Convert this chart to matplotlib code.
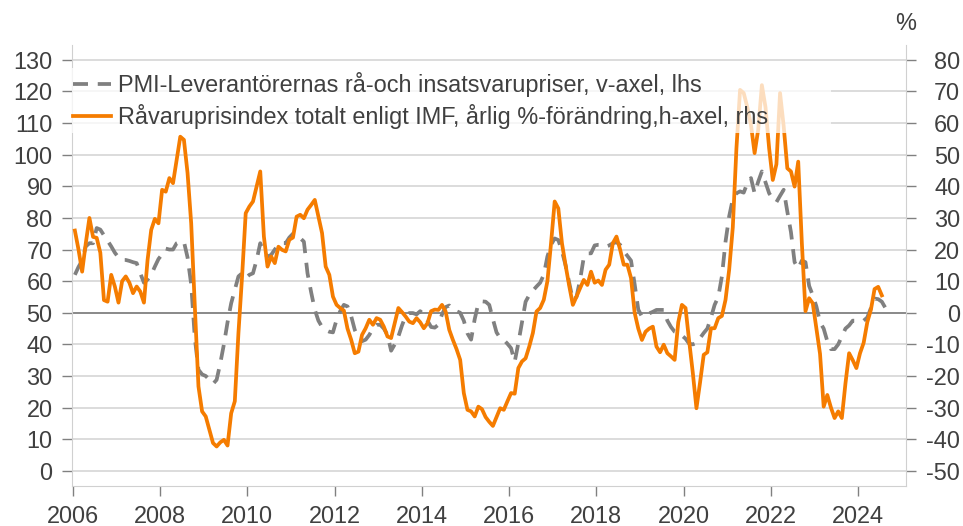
import numpy as np
import matplotlib
matplotlib.use("Agg")
import matplotlib.pyplot as plt
from matplotlib.patches import Rectangle
from matplotlib.lines import Line2D

plt.rcParams['font.family'] = ['Liberation Sans', 'DejaVu Sans']
plt.rcParams['axes.unicode_minus'] = False

# PMI - leverantörernas rå- och insatsvarupriser (vänster axel), månadsdata från jan 2006
pmi = [62, 64.5, 66.5, 71, 72, 72, 76.8, 76.3, 74.5, 72.8, 71, 69,
       67.5, 66.7, 66.7, 66.4, 66, 65.7, 62.5, 59.5, 60.5, 62, 64.6, 67,
       68.5, 70.3, 70, 70, 72, 72.5, 72.5, 67.5, 59, 42, 32, 30.5,
       30, 28.8, 27.5, 28.8, 34, 40, 47, 53, 57.3, 61.5, 62.5, 61,
       62, 62.5, 66.7, 72, 69, 67.8, 68.3, 70, 71.5, 72, 72, 73.8,
       75, 75, 73.6, 72.5, 62.5, 56.5, 51, 47.5, 45.5, 44.5, 44, 43.8,
       47.8, 50.5, 52.5, 52, 49, 44.6, 42, 41, 41.5, 43, 45, 46.2,
       46.2, 45, 43, 38, 40, 42.5, 46, 49, 49.9, 49.9, 49.5, 50.5,
       49.5, 47.5, 45.5, 45.3, 46.2, 49.5, 51.8, 52.3, 51, 50.5, 50, 47.5,
       43.5, 41.5, 48, 53, 53.6, 53.5, 52.5, 48, 43.8, 42, 41.4, 40.2,
       38.8, 34.5, 40.4, 47, 53.5, 55.6, 57, 58.3, 59.5, 62, 67.8, 71.5,
       73.5, 73, 69.5, 65, 59.5, 54, 55, 60.5, 67.5, 68.8, 68.8, 71.3,
       71.5, 71.5, 70.9, 71.3, 72, 72.3, 71.5, 69.5, 68, 66.5, 59, 51,
       48.8, 49, 49.8, 50.3, 50.9, 50.9, 50.9, 47.5, 45.5, 44, 43.6, 42.8,
       41.8, 40.2, 40, 40.4, 42, 43.6, 45, 48.5, 52.5, 55, 61.5, 72.5,
       80.5, 86, 87.8, 88.4, 88, 91, 92.6, 87.8, 91.5, 94.7, 91.2, 87.8,
       86, 85, 87, 88.9, 82, 75.5, 66, 64, 66.5, 66, 58.5, 55.5,
       52, 47, 45, 41, 38.5, 38.5, 40, 42.5, 45, 46, 47.5, 47.5,
       47.2, 47.5, 48.5, 51.5, 54.5, 54.3, 53.5, 51.5]

# Råvaruprisindex IMF, årlig %-förändring (höger axel), månadsdata från jan 2006
ravaror = [26, 20, 13, 22, 30, 24, 23.7, 19, 4, 3.5, 12, 8.3,
           3.2, 10, 11.5, 9.5, 6.2, 8.3, 6.7, 3.2, 16.7, 26.2, 29.7, 28.3,
           38.9, 38.3, 42.6, 41, 48.4, 55.7, 54.7, 44.2, 28.3, 2, -23.3, -31.2,
           -32.8, -37, -41.2, -42.3, -41, -40.2, -42, -31.8, -28, -6.4, 11.5, 31.5,
           33.6, 35.2, 39.9, 44.7, 24.1, 14.6, 17.8, 15.7, 20.9, 19.9, 19.4, 23.1,
           23.8, 30.4, 31, 29.9, 32.6, 34.1, 35.7, 30.4, 25.2, 14.6, 12, 5.1,
           2.5, 1.5, 0.7, -5, -8.5, -12.8, -12.3, -7, -4.9, -2.2, -3.8, -1.7,
           -2.2, -4.4, -7.5, -8, -3.3, 1.5, 0.2, -1.2, -2.8, -3.3, -1.7, -3,
           -4.9, -3.3, 0.5, 1, 0.9, 2.5, 0.4, -5.4, -8.6, -11.5, -14.9, -25.4,
           -30.7, -31.2, -32.8, -29.7, -30.5, -33, -34.5, -35.8, -33, -30.2, -30.7, -28,
           -25.4, -25.6, -17.5, -15.4, -14.4, -10.7, -6.4, 0.4, 1.5, 4.1, 10, 22,
           35.2, 33, 22, 15, 8.5, 2.5, 5.1, 7.8, 10.4, 8.8, 13, 9.5,
           10.2, 8.8, 13.6, 15.2, 22, 24.1, 20, 15.2, 15.2, 11, 0, -5,
           -8.6, -6, -5, -4.4, -10.7, -12.5, -10.1, -12.8, -13.8, -14.9, -3, 2.5,
           1.5, -9, -19, -30.2, -22, -13.3, -12.5, -4.9, -4.9, -1.7, -1, 4.1,
           13.6, 27, 52, 70.5, 69.5, 65, 59.4, 50.5, 58, 72, 65, 52,
           42, 47, 69.5, 59, 45.7, 44.7, 39.9, 47.8, 22, 0.5, 4.6, 3,
           -5, -13, -29.7, -26, -30, -33.3, -31.2, -33.3, -22.3, -12.8, -15, -17.5,
           -12.8, -9.5, -3, 1, 7.5, 8.2, 5.5]

labels = ['PMI-Leverantörernas rå-och insatsvarupriser, v-axel, lhs',
          'Råvaruprisindex totalt enligt IMF, årlig %-förändring,h-axel, rhs']

start_year = 2006
x_pmi = start_year + (np.arange(len(pmi)) + 0.55) / 12
x_rav = start_year + (np.arange(len(ravaror)) + 0.55) / 12

GRAY = '#808080'
ORANGE = '#F57C00'
TXT = '#404040'
FS = 16.9
W, H = 963, 526

fig = plt.figure(figsize=(W / 100, H / 100), dpi=100)
ax = fig.add_axes([72 / W, 1 - 486 / H, (906 - 72) / W, (486 - 45) / H])
ax2 = ax.twinx()

ax.set_xlim(2005.98, 2025.1)
ax.set_ylim(-4.8, 134.7)
ax2.set_ylim(-54.8, 84.7)

for v in range(0, 131, 10):
    ax.axhline(v, color=GRAY if v == 50 else '#D9D9D9', lw=1.3, zorder=0.5)

ax.plot(x_pmi, pmi, color=GRAY, lw=2.7, dashes=(4.0, 2.6), zorder=2)
ax2.plot(x_rav, ravaror, color=ORANGE, lw=2.7, zorder=2)

ax.set_xticks(range(2006, 2025, 2))
ax.set_yticks(range(0, 131, 10))
ax2.set_yticks(range(-50, 81, 10))

ax.tick_params(axis='both', direction='out', length=7, width=1, color=GRAY,
               labelsize=FS, labelcolor=TXT, pad=7)
ax2.tick_params(axis='y', direction='out', length=7, width=1, color=GRAY,
                labelsize=FS, labelcolor=TXT, pad=32)
for lab in ax2.get_yticklabels():
    lab.set_horizontalalignment('right')

for s in ['top', 'right']:
    ax.spines[s].set_visible(False)
for s in ['top', 'left', 'bottom']:
    ax2.spines[s].set_visible(False)
ax.spines['left'].set_color('#D0D0D0')
ax.spines['bottom'].set_color('#D0D0D0')
ax2.spines['right'].set_color('#D0D0D0')

# halvgenomskinlig legendruta över linjerna
fig.add_artist(Rectangle((72 / W, 1 - 133 / H), (831 - 72) / W, (133 - 68) / H,
                         transform=fig.transFigure, facecolor='white',
                         edgecolor='none', alpha=0.75, zorder=5))
handles = [Line2D([], [], color=GRAY, lw=2.7, dashes=(4.0, 2.6)),
           Line2D([], [], color=ORANGE, lw=2.7)]
leg = fig.legend(handles, labels, loc='center left',
                 bbox_to_anchor=(73 / W, 1 - 100.5 / H), frameon=False,
                 fontsize=FS, handlelength=1.6, handletextpad=0.3,
                 labelspacing=0.32, borderpad=0, borderaxespad=0,
                 labelcolor=TXT)
leg.set_zorder(6)

fig.text(906 / W, 1 - 23 / H, '%', ha='center', va='center', fontsize=FS, color=TXT)

fig.savefig('out.png', dpi=100)
